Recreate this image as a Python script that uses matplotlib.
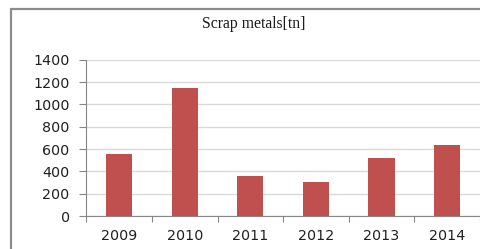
import matplotlib
matplotlib.use("Agg")
import matplotlib.pyplot as plt
import matplotlib.patches as patches
import numpy as np

years = ['2009', '2010', '2011', '2012', '2013', '2014']
scrap_tn = [555, 1145, 355, 305, 520, 640]
y_ticks = [0, 200, 400, 600, 800, 1000, 1200, 1400]

W, H = 481, 249
fig = plt.figure(figsize=(W / 100, H / 100), dpi=100)
fig.patch.set_facecolor('white')

# outer chart frame (cut off at right and bottom like the source)
fig.add_artist(patches.Rectangle((11 / W, -0.05), 1.2, 1 - 9 / H + 0.05,
                                 transform=fig.transFigure, fill=False,
                                 edgecolor='#8c8c8c', linewidth=1.6))

ax = fig.add_axes([86.3 / W, 1 - 216 / H, (480 - 86.3) / W, (216 - 59.7) / H])
x = np.arange(len(years))
ax.bar(x, scrap_tn, width=0.4, color='#c0504d', zorder=3)

ax.set_xlim(-0.5, len(years) - 0.5)
ax.set_ylim(0, 1400)
ax.set_yticks(y_ticks)
ax.set_yticklabels([str(v) for v in y_ticks], fontsize=10.3, color='#202020')
ax.set_xticks(x)
ax.set_xticklabels(years, fontsize=10.3, color='#202020')
ax.tick_params(axis='x', length=0, pad=9)
ax.set_xticks(np.arange(-0.5, len(years)), minor=True)
ax.tick_params(axis='x', which='minor', length=4, color='#868686', width=0.8)
ax.tick_params(axis='y', length=5, color='#868686', width=0.8, pad=7)

ax.grid(axis='y', color='#d9d9d9', linewidth=1.0, zorder=0)
for s in ['top', 'right']:
    ax.spines[s].set_visible(False)
for s in ['left', 'bottom']:
    ax.spines[s].set_color('#868686')
    ax.spines[s].set_linewidth(0.8)

fig.text(254 / W, 1 - 24 / H, 'Scrap metals[tn]', ha='center', va='center',
         fontsize=11.3, family='Liberation Serif', color='#1a1a1a')

fig.savefig('out.png', dpi=100)
